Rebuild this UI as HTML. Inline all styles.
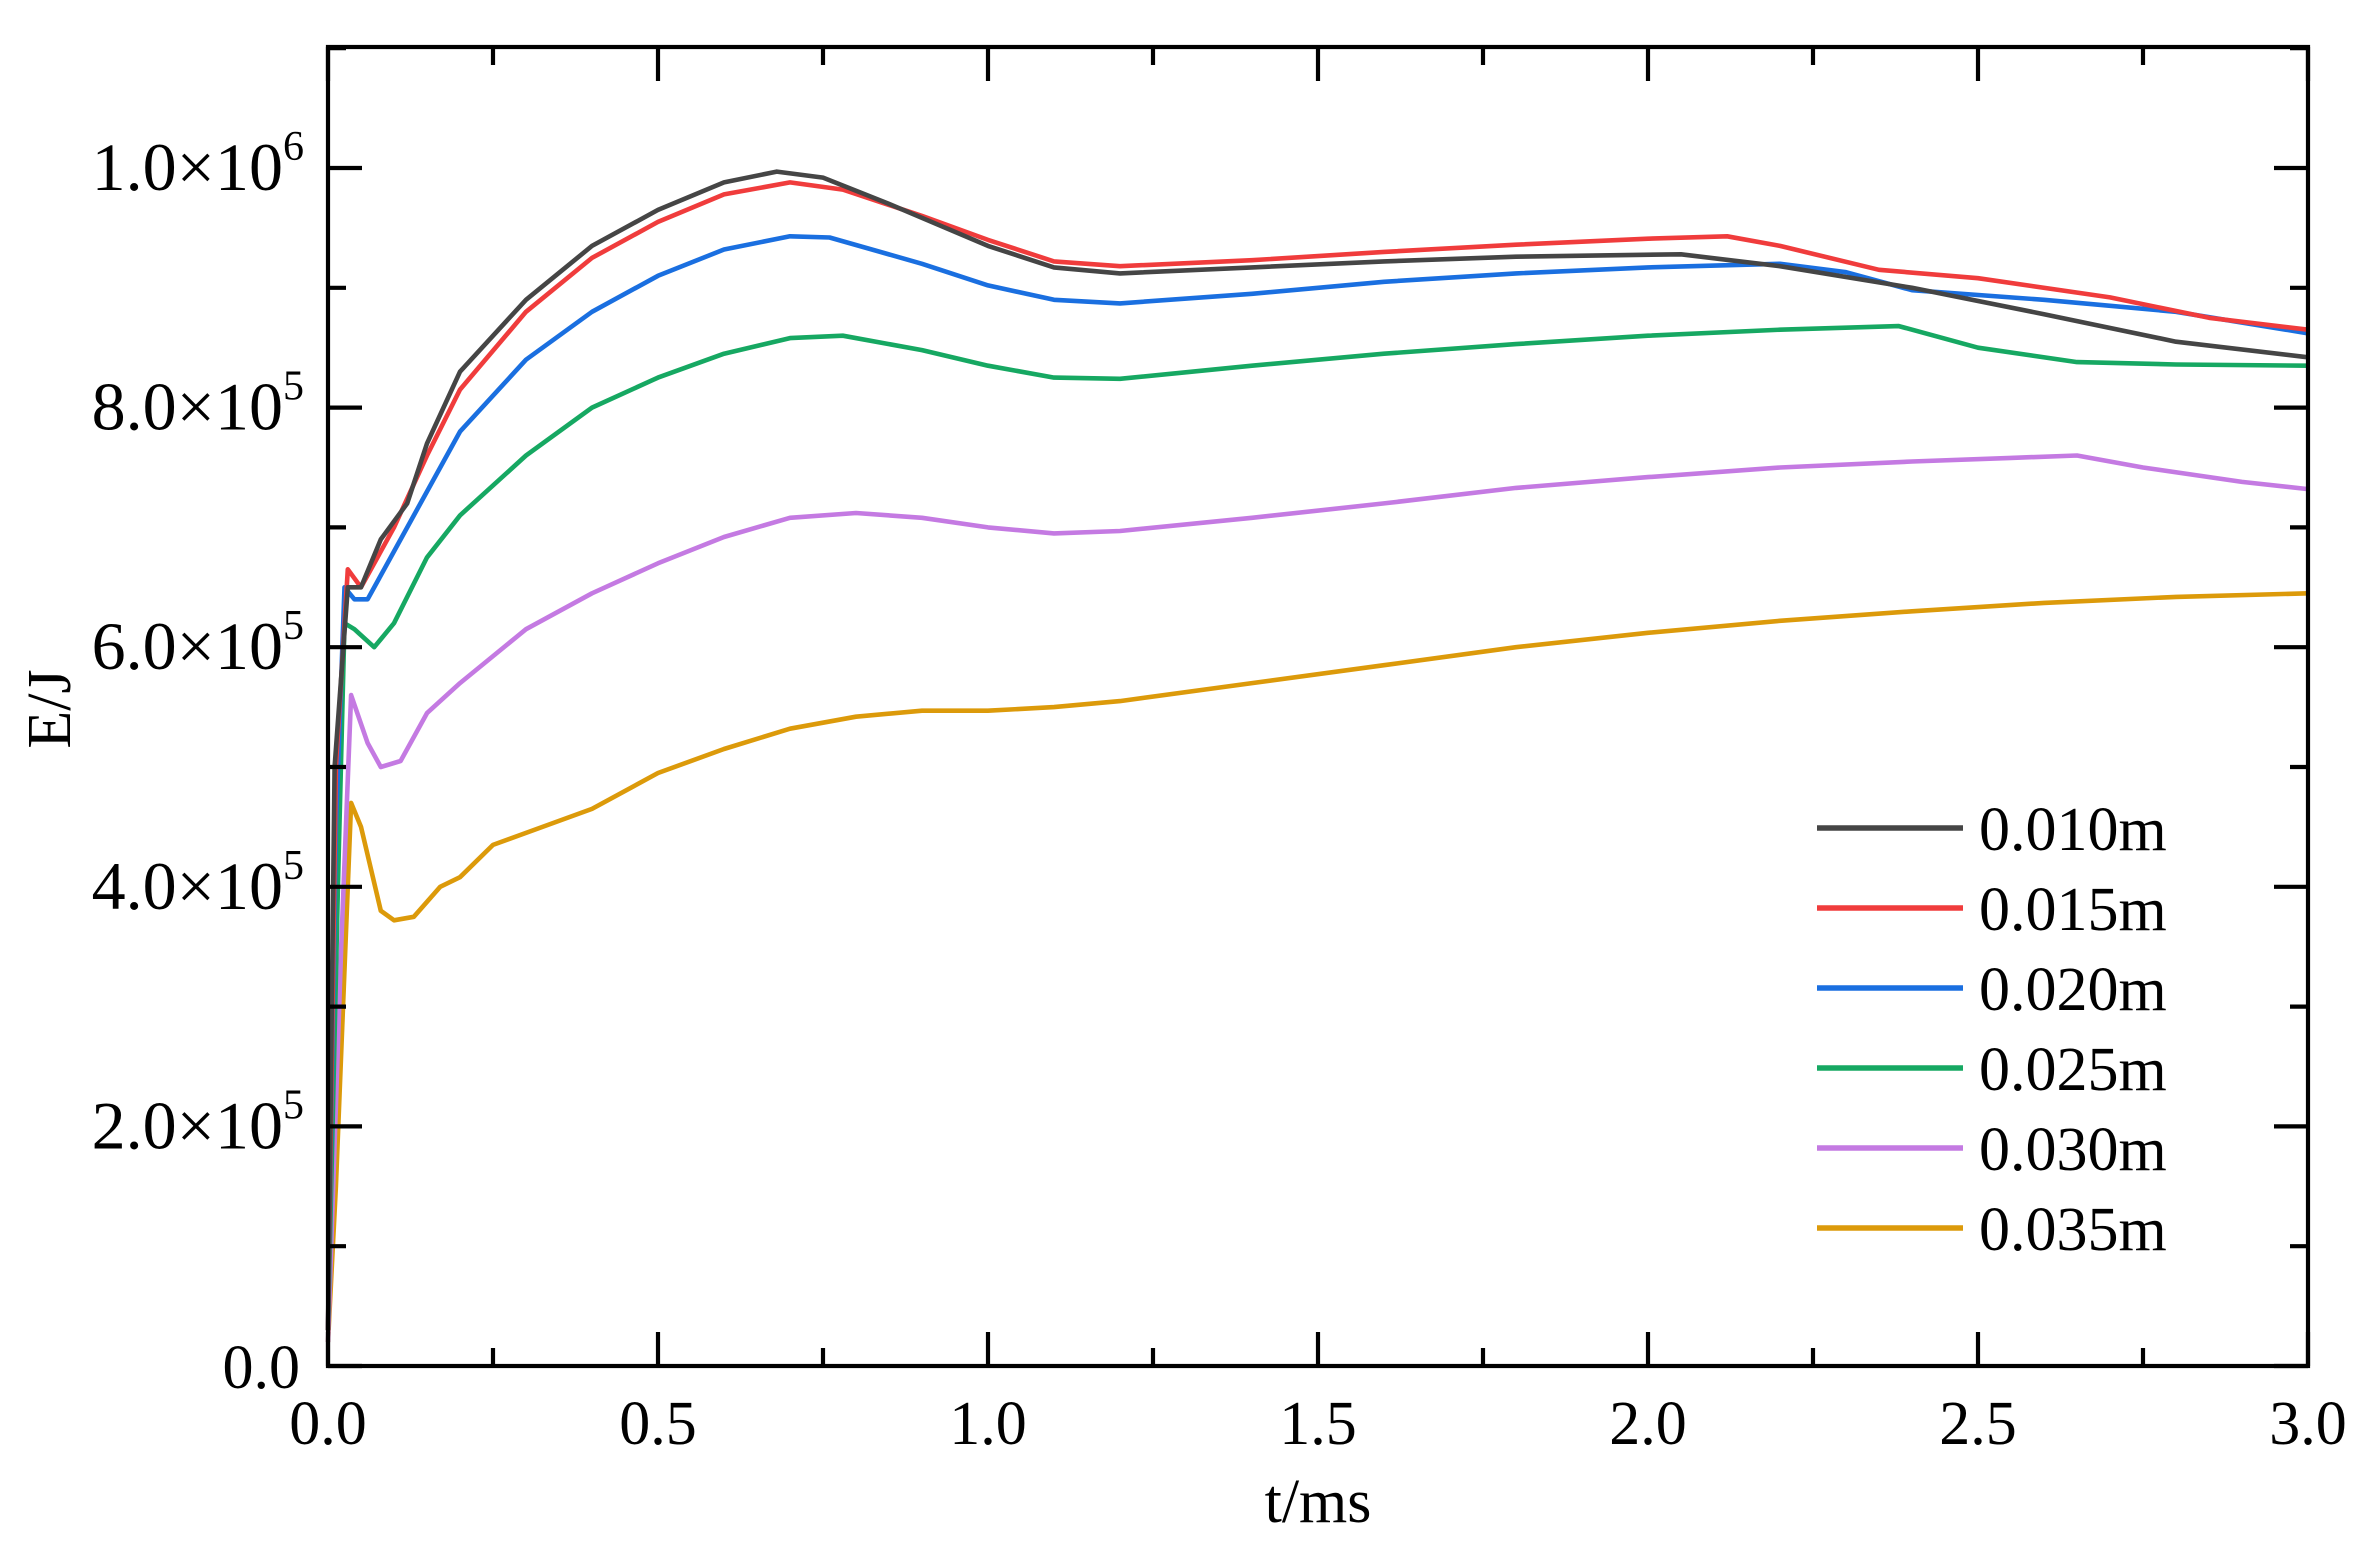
<!DOCTYPE html>
<html><head><meta charset="utf-8"><style>
html,body{margin:0;padding:0;background:#fff;}
svg{display:block;font-family:"Liberation Serif",serif;}
</style></head><body>
<svg id="s" width="2378" height="1556" viewBox="0 0 2378 1556" xmlns="http://www.w3.org/2000/svg">
<rect width="2378" height="1556" fill="#fff"/>
<g id="curves" fill="none" stroke-width="4.6" stroke-linejoin="round"></g>
<g id="axes" stroke="#000" stroke-width="4.2" fill="none"></g>
<g id="lbl" font-size="62" fill="#000"></g>
<text x="1318" y="1522" font-size="62" text-anchor="middle">t/ms</text>
<text transform="translate(70,709) rotate(-90)" font-size="62" text-anchor="middle">E/J</text>
<g id="leg" font-size="62"></g>
</svg>
<script>
const X0=328,X1=2308,Y0=1366,YT=47;
const px=t=>X0+t*(X1-X0)/3, py=e=>Y0-e*119.8;
const NS="http://www.w3.org/2000/svg";
function el(p,tag,a,txt){const e=document.createElementNS(NS,tag);for(const k in a)e.setAttribute(k,a[k]);if(txt!==undefined)e.innerHTML=txt;p.appendChild(e);return e;}
const data=[
["#454545","0.010m",[[0,0.3],[0.01,5],[0.03,6.5],[0.05,6.5],[0.08,6.9],[0.12,7.2],[0.15,7.7],[0.2,8.3],[0.3,8.9],[0.4,9.35],[0.5,9.65],[0.6,9.88],[0.68,9.97],[0.75,9.92],[0.85,9.7],[1.0,9.35],[1.1,9.17],[1.2,9.12],[1.4,9.17],[1.6,9.22],[1.8,9.26],[2.05,9.28],[2.2,9.18],[2.4,9.0],[2.6,8.78],[2.8,8.55],[3.0,8.42]]],
["#f03c3c","0.015m",[[0,0.3],[0.012,5],[0.03,6.65],[0.05,6.5],[0.1,7.0],[0.15,7.6],[0.2,8.15],[0.3,8.8],[0.4,9.25],[0.5,9.55],[0.6,9.78],[0.7,9.88],[0.78,9.82],[0.9,9.6],[1.0,9.4],[1.1,9.22],[1.2,9.18],[1.4,9.23],[1.6,9.3],[1.8,9.36],[2.0,9.41],[2.12,9.43],[2.2,9.35],[2.35,9.15],[2.5,9.08],[2.7,8.92],[2.85,8.75],[3.0,8.65]]],
["#1a6fe0","0.020m",[[0,0.3],[0.012,4.5],[0.025,6.5],[0.04,6.4],[0.06,6.4],[0.1,6.8],[0.15,7.3],[0.2,7.8],[0.3,8.4],[0.4,8.8],[0.5,9.1],[0.6,9.32],[0.7,9.43],[0.76,9.42],[0.9,9.2],[1.0,9.02],[1.1,8.9],[1.2,8.87],[1.4,8.95],[1.6,9.05],[1.8,9.12],[2.0,9.17],[2.2,9.2],[2.3,9.13],[2.4,8.98],[2.6,8.9],[2.8,8.8],[3.0,8.62]]],
["#16a862","0.025m",[[0,0.3],[0.015,4],[0.025,6.2],[0.04,6.15],[0.07,6.0],[0.1,6.2],[0.15,6.75],[0.2,7.1],[0.3,7.6],[0.4,8.0],[0.5,8.25],[0.6,8.45],[0.7,8.58],[0.78,8.6],[0.9,8.48],[1.0,8.35],[1.1,8.25],[1.2,8.24],[1.4,8.35],[1.6,8.45],[1.8,8.53],[2.0,8.6],[2.2,8.65],[2.38,8.68],[2.5,8.5],[2.65,8.38],[2.8,8.36],[3.0,8.35]]],
["#c47ae2","0.030m",[[0,0.2],[0.02,3.5],[0.035,5.6],[0.06,5.2],[0.08,5.0],[0.11,5.05],[0.15,5.45],[0.2,5.7],[0.3,6.15],[0.4,6.45],[0.5,6.7],[0.6,6.92],[0.7,7.08],[0.8,7.12],[0.9,7.08],[1.0,7.0],[1.1,6.95],[1.2,6.97],[1.4,7.08],[1.6,7.2],[1.8,7.33],[2.0,7.42],[2.2,7.5],[2.4,7.55],[2.55,7.58],[2.65,7.6],[2.75,7.5],[2.9,7.38],[3.0,7.32]]],
["#dc9a0a","0.035m",[[0,0.2],[0.012,1.5],[0.035,4.7],[0.05,4.5],[0.08,3.8],[0.1,3.72],[0.13,3.75],[0.17,4.0],[0.2,4.08],[0.25,4.35],[0.35,4.55],[0.4,4.65],[0.5,4.95],[0.6,5.15],[0.7,5.32],[0.8,5.42],[0.9,5.47],[1.0,5.47],[1.1,5.5],[1.2,5.55],[1.4,5.7],[1.6,5.85],[1.8,6.0],[2.0,6.12],[2.2,6.22],[2.4,6.3],[2.6,6.37],[2.8,6.42],[3.0,6.45]]]];
const cg=document.getElementById('curves');
data.slice().reverse().forEach(([c,n,pts])=>{el(cg,'polyline',{stroke:c,points:pts.map(p=>px(p[0]).toFixed(1)+','+py(p[1]).toFixed(1)).join(' ')});});
const ag=document.getElementById('axes');
el(ag,'rect',{x:X0,y:YT,width:X1-X0,height:Y0-YT});
for(let i=0;i<=12;i++){const x=px(i*0.25),L=i%2?18:34;
 el(ag,'line',{x1:x,y1:Y0,x2:x,y2:Y0-L});el(ag,'line',{x1:x,y1:YT,x2:x,y2:YT+L});}
for(let i=0;i<=11;i++){const y=py(i),L=i%2?18:34;
 el(ag,'line',{x1:X0,y1:y,x2:X0+L,y2:y});el(ag,'line',{x1:X1,y1:y,x2:X1-L,y2:y});}
const lg=document.getElementById('lbl');
for(let i=0;i<=6;i++){el(lg,'text',{x:px(i*0.5),y:1444,'text-anchor':'middle'},(i*0.5).toFixed(1));}
const yl=[["0.0",""],["2.0×10","5"],["4.0×10","5"],["6.0×10","5"],["8.0×10","5"],["1.0×10","6"]];
yl.forEach((l,i)=>{const y=py(i*2)+22;
 if(l[1]) el(lg,'text',{x:304,y:y,'text-anchor':'end','font-size':68},l[0]+'<tspan font-size="42" dy="-30">'+l[1]+'</tspan>');
 else el(lg,'text',{x:300,y:y,'text-anchor':'end'},l[0]);});
const lgd=document.getElementById('leg');
data.forEach(([c,n],i)=>{const y=828+i*80;
 el(lgd,'line',{x1:1817,y1:y,x2:1963,y2:y,stroke:c,'stroke-width':5.5});
 el(lgd,'text',{x:1979,y:y+22},n);});
</script>
</body></html>
